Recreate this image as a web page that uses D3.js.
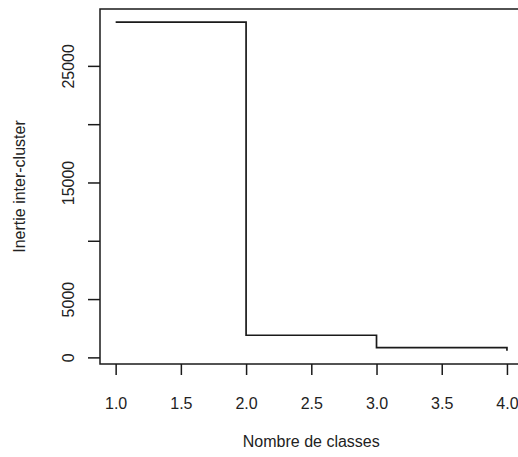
<!DOCTYPE html>
<html>
<head>
<meta charset="utf-8">
<script src="https://cdn.jsdelivr.net/npm/d3@7"></script>
<style>
  body { margin: 0; background: #fff; }
  svg { display: block; font-family: "Liberation Sans", Arial, sans-serif; }
</style>
</head>
<body>
<svg id="chart"></svg>
<script>
var width = 518;
var height = 457;

// data
var nbClasses = [1, 2, 3, 4];
var inertie = [28750, 1900, 830, 560];
var xTicks = [1.0, 1.5, 2.0, 2.5, 3.0, 3.5, 4.0];
var yTicks = [0, 5000, 10000, 15000, 20000, 25000];
var yLabels = [0, 5000, 15000, 25000];

// plot region (right side of the box falls outside the picture)
var plotL = 100, plotT = 9, plotR = 522.6, plotB = 364;

var svg = d3.select("#chart")
        .attr("width", width)
        .attr("height", height);

// R style 4% padding on each axis
var xr = d3.extent(nbClasses), yr = d3.extent(inertie);
var xpad = (xr[1] - xr[0]) * 0.04, ypad = (yr[1] - yr[0]) * 0.04;

var x = d3.scaleLinear().domain([xr[0] - xpad, xr[1] + xpad]).range([plotL, plotR]);
var y = d3.scaleLinear().domain([yr[0] - ypad, yr[1] + ypad]).range([plotB, plotT]);

var ink = "#1a1a1a";

// box
svg.append("rect")
    .attr("x", plotL).attr("y", plotT)
    .attr("width", plotR - plotL).attr("height", plotB - plotT)
    .attr("fill", "none")
    .attr("stroke", ink)
    .attr("stroke-width", 1.5);

// x axis
var xAxis = svg.append("g")
    .attr("transform", "translate(0," + plotB + ")")
    .call(d3.axisBottom(x).tickValues(xTicks).tickSize(11).tickPadding(23)
        .tickFormat(d3.format(".1f")));
xAxis.select(".domain").remove();
xAxis.selectAll("line").attr("stroke", ink).attr("stroke-width", 1.5);
xAxis.selectAll("text").attr("fill", "#222").style("font-size", "16px")
    .style("font-family", "'Liberation Sans', Arial, sans-serif");

// y axis, labels rotated like R (las = 0)
var yAxis = svg.append("g")
    .attr("transform", "translate(" + plotL + ",0)")
    .call(d3.axisLeft(y).tickValues(yTicks).tickSize(12)
        .tickFormat(d => yLabels.indexOf(d) >= 0 ? d : ""));
yAxis.select(".domain").remove();
yAxis.selectAll("line").attr("stroke", ink).attr("stroke-width", 1.5);
yAxis.selectAll("text")
    .attr("fill", "#222")
    .attr("x", null).attr("dy", null)
    .attr("text-anchor", "middle")
    .attr("transform", "translate(-26,0) rotate(-90)")
    .style("font-size", "16px")
    .style("font-family", "'Liberation Sans', Arial, sans-serif");

// step line (type = "s")
var pts = nbClasses.map((d, i) => [d, inertie[i]]);
var line = d3.line()
    .x(d => x(d[0]))
    .y(d => y(d[1]))
    .curve(d3.curveStepAfter);

svg.append("path")
    .datum(pts)
    .attr("d", line)
    .attr("fill", "none")
    .attr("stroke", ink)
    .attr("stroke-width", 1.7);

// axis titles
svg.append("text")
    .attr("x", (plotL + plotR) / 2)
    .attr("y", 447)
    .attr("text-anchor", "middle")
    .attr("fill", "#222")
    .style("font-size", "16px")
    .text("Nombre de classes");

svg.append("text")
    .attr("transform", "translate(25," + ((plotT + plotB) / 2) + ") rotate(-90)")
    .attr("text-anchor", "middle")
    .attr("fill", "#222")
    .style("font-size", "16px")
    .text("Inertie inter-cluster");
</script>
</body>
</html>
